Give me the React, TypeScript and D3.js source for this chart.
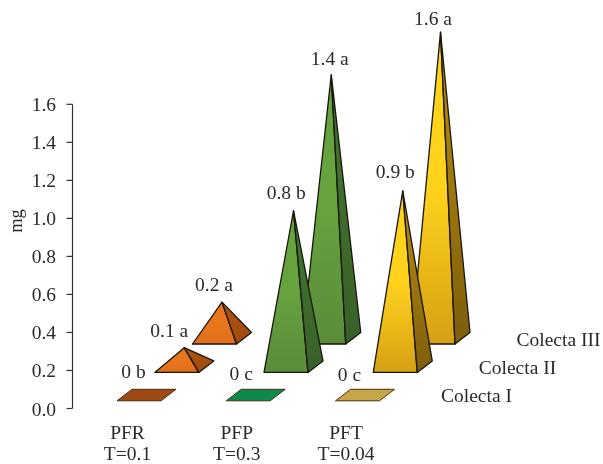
import React from "react";
import * as d3 from "d3";

const categories = ["PFR", "PFP", "PFT"];
const categoryNotes = ["T=0.1", "T=0.3", "T=0.04"];
const collections = ["Colecta I", "Colecta II", "Colecta III"];
const ticks = [0, 0.2, 0.4, 0.6, 0.8, 1.0, 1.2, 1.4, 1.6];
// Drawn heights
const pfrHeights = [0, 0.1, 0.19];
const pfpHeights = [0, 0.82, 1.385];
const pftHeights = [0, 0.925, 1.61];
const pfrLabels = ["0 b", "0.1 a", "0.2 a"];
const pfpLabels = ["0 c", "0.8 b", "1.4 a"];
const pftLabels = ["0 c", "0.9 b", "1.6 a"];

const heights = [pfrHeights, pfpHeights, pftHeights];
const labels = [pfrLabels, pfpLabels, pftLabels];

const W = 603;
const H = 464;
const BW = 44; // base width
const DX = 15; // depth
const DY = 11.5;
const FS = 19.5;
const INK = "#2a2a2a";

const y = d3.scaleLinear().domain([0, 1.6]).range([408.5, 104.3]);
const unit = y(0) - y(1);
const xCat = d3.scaleLinear().domain([0, 2]).range([0, 218.5]);
const rowX = d3.scaleLinear().domain([0, 2]).range([117, 192.5]);
const rowY = d3.scaleLinear().domain([0, 2]).range([400.8, 344]);

const path = d3.line<[number, number]>();

const themes = [
  { flat: "#9C4A12", stops: ["#E8761E", "#E06E1A"], side: ["#B0540F", "#A04A0E"] },
  { flat: "#0B8A48", stops: ["#66A23E", "#5A8C3A"], side: ["#44772F", "#38602A"] },
  { flat: "#C6A64A", stops: ["#FFD21E", "#D6A012"], side: ["#BC8E10", "#7E5E08"] },
];

// label offset from the peak, by row
const labelDx = [[-13, -15, -8], [-14.5, -7.3, -1.5], [-15.5, -7.5, -7.5]];
const labelDy = [[-17, -10.5, -11], [-15, -12, -9.5], [-14, -13, -7]];

export default function App() {
  const font = "'Liberation Serif', serif";
  return (
    <svg
      width={W}
      height={H}
      viewBox={`0 0 ${W} ${H}`}
      style={{ position: "absolute", left: 0, top: 0, background: "#fff" }}
      fontFamily={font}
    >
      <defs>
        <filter id="soft" x="-5%" y="-5%" width="110%" height="110%">
          <feGaussianBlur stdDeviation="0.35" />
        </filter>
        {themes.map((t, i) => (
          <React.Fragment key={i}>
            <linearGradient id={`front${i}`} x1="0" y1="0" x2="0" y2="1">
              <stop offset="0" stopColor={t.stops[0]} />
              <stop offset="0.5" stopColor={t.stops[0]} />
              <stop offset="1" stopColor={t.stops[1]} />
            </linearGradient>
            <linearGradient id={`side${i}`} x1="0" y1="0" x2="0" y2="1">
              <stop offset="0" stopColor={t.side[0]} />
              <stop offset="1" stopColor={t.side[1]} />
            </linearGradient>
          </React.Fragment>
        ))}
      </defs>
      <g filter="url(#soft)">
        <line x1={72.5} x2={72.5} y1={y(1.6)} y2={y(0)} stroke="#333" strokeWidth={1.2} />
        {ticks.map((t) => (
          <g key={t}>
            <line x1={66.5} x2={72.5} y1={y(t)} y2={y(t)} stroke="#333" strokeWidth={1.2} />
            <text x={56} y={y(t) + 7} textAnchor="end" fontSize={FS} fill={INK}>
              {t.toFixed(1)}
            </text>
          </g>
        ))}
        <text transform="translate(21.5,221) rotate(-90)" textAnchor="middle" fontSize={18.5} fill={INK}>
          mg
        </text>

        {[2, 1, 0].map((r) =>
          categories.map((_, c) => {
            const x0 = xCat(c) + rowX(r);
            const y0 = rowY(r);
            const h = heights[c][r] * unit;
            const fl: [number, number] = [x0, y0];
            const fr: [number, number] = [x0 + BW, y0];
            const br: [number, number] = [x0 + BW + DX, y0 - DY];
            const bl: [number, number] = [x0 + DX, y0 - DY];
            const apex: [number, number] = [x0 + (BW + DX) / 2, y0 - DY / 2 - h];
            const lx = apex[0] + labelDx[c][r];
            const ly = apex[1] + labelDy[c][r];
            return (
              <g key={`${r}-${c}`}>
                {h === 0 ? (
                  <path d={path([fl, fr, br, bl])! + "Z"} fill={themes[c].flat} stroke="#4a3010" strokeWidth={1} />
                ) : (
                  <g stroke="#17160c" strokeWidth={1.3} strokeLinejoin="round">
                    <path d={path([fl, fr, apex])! + "Z"} fill={`url(#front${c})`} />
                    <path d={path([fr, br, apex])! + "Z"} fill={`url(#side${c})`} />
                  </g>
                )}
                <text x={lx} y={ly} textAnchor="middle" fontSize={FS} fill={INK}>
                  {labels[c][r]}
                </text>
              </g>
            );
          })
        )}

        {categories.map((cat, c) => (
          <g key={cat} textAnchor="middle" fontSize={FS} fill={INK}>
            <text x={127.5 + xCat(c)} y={439.3}>{cat}</text>
            <text x={127.5 + xCat(c)} y={459.7}>{categoryNotes[c]}</text>
          </g>
        ))}
        {collections.map((name, r) => (
          <text key={name} x={441 + (rowX(r) - rowX(0))} y={rowY(r) + 1.5} fontSize={FS} fill={INK}>
            {name}
          </text>
        ))}
      </g>
    </svg>
  );
}
